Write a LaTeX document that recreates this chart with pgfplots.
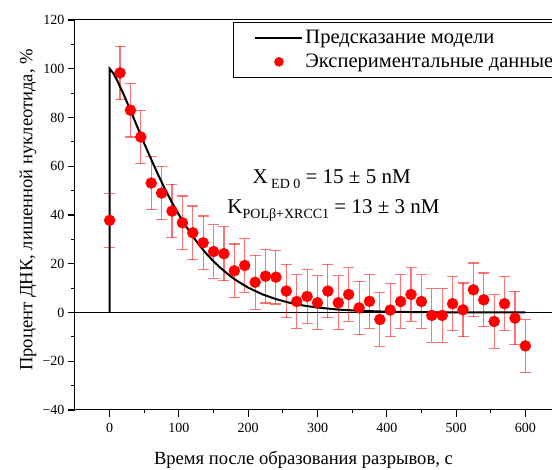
\documentclass[border=0pt]{standalone}
\usepackage{fontspec}
\setmainfont{Liberation Serif}
\newfontfamily\tnr{Liberation Serif}
\usepackage{pgfplots}
\pgfplotsset{compat=1.18}
\pgfplotstableread{
x y
0 37.8
15 98.3
30 83.0
45 72.0
60 53.1
75 49.0
90 41.6
105 36.8
120 32.7
135 28.6
150 25.0
165 24.1
180 17.1
195 19.3
210 12.4
225 14.9
240 14.5
255 8.8
270 4.5
285 6.6
300 4.0
315 8.8
330 4.0
345 7.4
360 1.9
375 4.6
390 -2.9
405 1.0
420 4.5
435 7.4
450 4.5
465 -1.2
480 -1.2
495 3.6
510 1.1
525 9.3
540 5.2
555 -3.7
570 3.6
585 -2.3
600 -13.7
}\expdata
\pgfplotstableread{
x y
0 0
0 100
5 98.3
10 95.7
20 89.6
30 83.0
40 76.1
50 69.3
60 62.8
70 56.5
80 50.6
90 45.1
100 40.1
110 35.5
120 31.2
130 27.4
140 24.0
150 21.0
160 18.3
170 15.9
180 13.7
190 11.9
200 10.2
220 7.5
240 5.5
260 3.96
280 2.84
300 2.02
330 1.20
360 0.70
400 0.33
450 0.13
500 0.05
550 0.02
600 0.01
}\modeldata
\begin{document}
\begin{tikzpicture}
\useasboundingbox (-75pt,-60pt) rectangle (477pt,410pt);
\clip (-75pt,-60pt) rectangle (477pt,410pt);
\begin{axis}[
  at={(0pt,0pt)}, anchor=south west,
  scale only axis, width=485pt, height=390pt,
  xmin=-50, xmax=650, ymin=-40, ymax=120,
  axis line style={black, line width=1pt},
  xtick={0,100,...,600},
  xticklabels={\mbox{\tnr 0},\mbox{\tnr 100},\mbox{\tnr 200},\mbox{\tnr 300},\mbox{\tnr 400},\mbox{\tnr 500},\mbox{\tnr 600}},
  ytick={-40,-20,0,20,40,60,80,100,120},
  yticklabels={\mbox{\tnr −40},\mbox{\tnr −20},\mbox{\tnr 0},\mbox{\tnr 20},\mbox{\tnr 40},\mbox{\tnr 60},\mbox{\tnr 80},\mbox{\tnr 100},\mbox{\tnr 120}},
  minor x tick num=1, minor y tick num=1,
  xtick pos=bottom, ytick pos=left,
  tick align=outside,
  major tick length=7pt, minor tick length=3.5pt,
  every tick/.style={black, line width=1.1pt},
  tick label style={font=\tnr\fontsize{14}{14}\selectfont},
  xticklabel style={yshift=-3pt},
  xlabel={Время после образования разрывов, с},
  xlabel style={font=\tnr\fontsize{18.6}{18.6}\selectfont, at={(axis description cs:0.471,0)}, anchor=base, yshift=-55pt},
  ylabel={Процент ДНК, лишенной нуклеотида, \%},
  ylabel style={font=\tnr\fontsize{18.6}{18.6}\selectfont, at={(axis description cs:-0.0969,0.513)}, anchor=center},
  legend style={at={(axis description cs:0.3258,0.995)}, anchor=north west, draw=black, line width=0.9pt,
    font=\tnr\fontsize{20.5}{22}\selectfont, inner sep=6pt, row sep=5pt},
  legend cell align=left,
  reverse legend,
]
\addplot[black, line width=1.4pt, forget plot] coordinates {(-50,0) (650,0)};
\addplot[only marks, mark=*, mark size=5.5pt, color=red, mark options={fill=red, draw=red},
  error bars/.cd, y dir=both, y fixed=11,
  error bar style={red, opacity=0.55, line width=1.1pt},
  error mark options={rotate=90, mark size=5.5pt, red, opacity=0.55, line width=1.1pt}]
  table[x=x, y=y] {\expdata};
\addlegendimage{legend image code/.code={\path (0pt,0pt) (62pt,0pt); \fill[red] (38.5pt,0pt) circle (4.3pt);}}
\addlegendentry{Экспериментальные данные}
\addplot[black, line width=2pt, mark=none,
  legend image code/.code={\path (0pt,0pt); \draw[black, line width=2pt] (15pt,0pt) -- (62pt,0pt);}]
  table[x=x, y=y] {\modeldata};
\addlegendentry{Предсказание модели}
\node[anchor=base west, font=\tnr\fontsize{21}{21}\selectfont, inner sep=0pt] at (axis cs:206,52.9)
  {X\,\raisebox{-5pt}{\fontsize{14}{14}\selectfont ED 0} = 15 ± 5 nM};
\node[anchor=base west, font=\tnr\fontsize{21}{21}\selectfont, inner sep=0pt] at (axis cs:169.8,40.5)
  {K\raisebox{-5pt}{\fontsize{14}{14}\selectfont POLβ+XRCC1} = 13 ± 3 nM};
\end{axis}
\end{tikzpicture}
\end{document}
